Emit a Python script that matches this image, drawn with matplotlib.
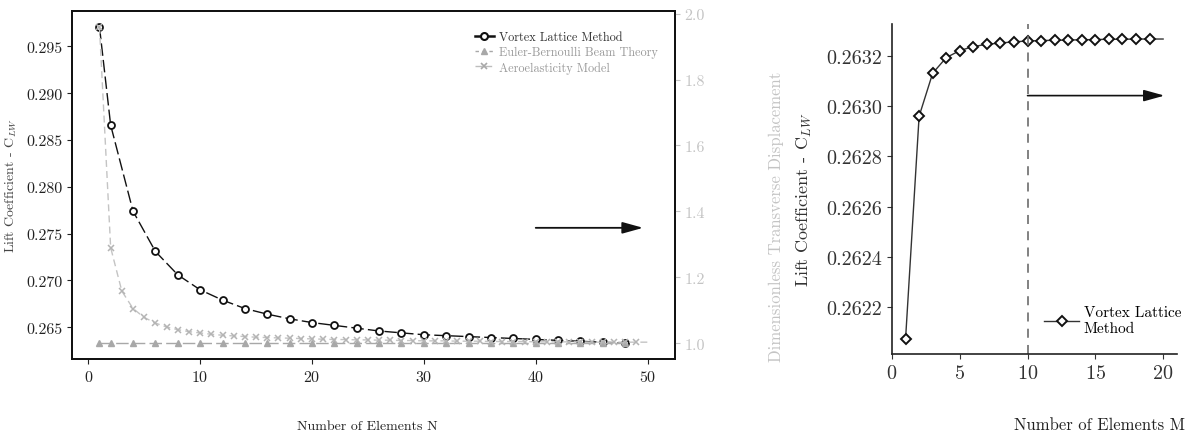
import matplotlib
matplotlib.use("Agg")
import matplotlib.pyplot as plt
from matplotlib.lines import Line2D

plt.rcParams['font.family'] = ['cmr10', 'DejaVu Serif']
plt.rcParams['mathtext.fontset'] = 'cm'
plt.rcParams['axes.formatter.use_mathtext'] = True
plt.rcParams['axes.unicode_minus'] = False

# --- convergence in spanwise elements N ---
n_vlm = [1, 2, 4, 6, 8, 10, 12, 14, 16, 18, 20, 22, 24, 26, 28, 30, 32, 34,
         36, 38, 40, 42, 44, 46, 48]
cl_vlm = [0.2971, 0.2866, 0.2774, 0.2731, 0.2706, 0.2690, 0.2679, 0.2670,
          0.2664, 0.2659, 0.2655, 0.2652, 0.2649, 0.2646, 0.2644, 0.2642,
          0.2641, 0.2640, 0.2639, 0.2638, 0.2637, 0.2636, 0.2635, 0.2634,
          0.2633]

n_eb = [1, 2, 4, 6, 8, 10, 12, 14, 16, 18, 20, 22, 24, 26, 28, 30, 32, 34,
        36, 38, 40, 42, 44, 46, 48]
disp_eb = [1.0] * len(n_eb)

n_aero = list(range(1, 51))
disp_aero = [1.960, 1.290, 1.158, 1.105, 1.078, 1.061, 1.049, 1.041, 1.035,
             1.031, 1.027, 1.024, 1.022, 1.020, 1.018, 1.017, 1.016, 1.015,
             1.014, 1.013, 1.012, 1.011, 1.011, 1.010, 1.010, 1.009, 1.009,
             1.008, 1.008, 1.007, 1.007, 1.007, 1.006, 1.006, 1.006, 1.005,
             1.005, 1.005, 1.005, 1.004, 1.004, 1.004, 1.004, 1.004, 1.003,
             1.003, 1.003, 1.003, 1.003, 1.003]

# --- convergence in chordwise elements M ---
m_vlm = list(range(1, 21))
cl_m = [0.262074, 0.262960, 0.263131, 0.263193, 0.263221, 0.263237,
        0.263246, 0.263251, 0.263256, 0.263259, 0.263261, 0.263262,
        0.263263, 0.263264, 0.263265, 0.263266, 0.263266, 0.263267,
        0.263267, 0.263267]

fig = plt.figure(figsize=(11.93, 4.39), dpi=100)

# ---------------- left panel ----------------
ax1 = fig.add_axes([0.0604, 0.18, 0.5054, 0.7927])
ax2 = ax1.twinx()

ax1.plot(n_vlm, cl_vlm, color='#111111', lw=1.0, dashes=(9, 3),
         marker='o', ms=5, mfc='white', mec='#111111', mew=1.3, zorder=3)
ax2.plot(n_eb, disp_eb, color='#a8a8a8', lw=1.0, dashes=(9, 3),
         marker='^', ms=5, mfc='#a8a8a8', mec='#a8a8a8')
ax2.plot(n_aero, disp_aero, color='#c4c4c4', lw=1.0, dashes=(5, 3),
         marker='x', ms=4, mew=1.1, markevery=slice(0, 49),
         mec='#b4b4b4')

ax1.set_xticks([0, 10, 20, 30, 40, 50])
ax1.set_yticks([0.265, 0.270, 0.275, 0.280, 0.285, 0.290, 0.295])
ax1.yaxis.set_major_formatter(matplotlib.ticker.FormatStrFormatter('%.3f'))
ax2.set_yticks([1.0, 1.2, 1.4, 1.6, 1.8, 2.0])
ax2.yaxis.set_major_formatter(matplotlib.ticker.FormatStrFormatter('%.1f'))

ax1.tick_params(labelsize=11.5, colors='#222222')
ax2.tick_params(labelsize=11.5, colors='#c4c4c4')
for sp in ax1.spines.values():
    sp.set_linewidth(1.3)
    sp.set_color('#111111')
for sp in ax2.spines.values():
    sp.set_linewidth(1.3)
    sp.set_color('#111111')

ax1.set_xlabel('Number of Elements N', fontsize=10, color='#222222')
ax1.xaxis.set_label_coords(0.49, -0.175)
ax1.set_ylabel(r'Lift Coefficient - C$_{LW}$', fontsize=10,
               color='#444444', labelpad=5)
ax2.set_ylabel('Dimensionless Transverse Displacement', fontsize=12,
               color='#c4c4c4')
ax2.yaxis.set_label_coords(1.155, 0.41)

ax2.annotate('', xy=(49.6, 1.35), xytext=(40, 1.35),
             arrowprops=dict(arrowstyle='-|>,head_length=0.9,head_width=0.25',
                             color='#111111', lw=1.3, mutation_scale=14,
                             shrinkA=0, shrinkB=0))

handles = [
    Line2D([], [], color='#111111', lw=1.8, marker='o', ms=5,
           mfc='white', mec='#111111', mew=1.5),
    Line2D([], [], color='#a8a8a8', lw=1.0, ls=(0, (2.5, 2.5)), marker='^',
           ms=4.5, mfc='#a8a8a8', mec='#a8a8a8'),
    Line2D([], [], color='#bdbdbd', lw=1.0, ls=(0, (5, 2)), marker='x',
           ms=4, mew=1.2, mec='#a8a8a8'),
]
ax1.legend(handles, ['Vortex Lattice Method', 'Euler-Bernoulli Beam Theory',
                     'Aeroelasticity Model'],
           loc='upper right', bbox_to_anchor=(0.99, 0.975), frameon=False,
           fontsize=8.8, handlelength=1.5, handletextpad=0.45,
           labelspacing=0.25,
           labelcolor=['#333333', '#9a9a9a', '#9a9a9a'])

# ---------------- right panel ----------------
ax3 = fig.add_axes([0.7477, 0.1913, 0.2386, 0.7517])
ax3.plot(m_vlm, cl_m, color='#333333', lw=1.0, marker='D', ms=5.5,
         mfc='white', mec='#111111', mew=1.4, markevery=slice(0, 19),
         label='Vortex Lattice\nMethod')
ax3.axvline(10, color='#777777', lw=1.3, dashes=(5, 4))
ax3.annotate('', xy=(20.1, 0.263042), xytext=(10, 0.263042),
             arrowprops=dict(arrowstyle='-|>,head_length=0.9,head_width=0.25',
                             color='#111111', lw=1.2, mutation_scale=14,
                             shrinkA=0, shrinkB=0))
ax3.set_xticks([0, 5, 10, 15, 20])
ax3.set_yticks([0.2622, 0.2624, 0.2626, 0.2628, 0.2630, 0.2632])
ax3.yaxis.set_major_formatter(matplotlib.ticker.FormatStrFormatter('%.4f'))
ax3.set_xlim(0, 21)
ax3.spines['top'].set_visible(False)
ax3.spines['right'].set_visible(False)
for s in ('left', 'bottom'):
    ax3.spines[s].set_linewidth(1.2)
    ax3.spines[s].set_color('#222222')
ax3.tick_params(labelsize=14.5, colors='#333333')
ax3.set_ylabel(r'Lift Coefficient - C$_{LW}$', fontsize=13,
               color='#333333')
ax3.yaxis.set_label_coords(-0.275, 0.47)
ax3.set_xlabel('Number of Elements M', fontsize=12, color='#222222')
ax3.xaxis.set_label_coords(0.73, -0.19)
ax3.legend(loc='lower right', bbox_to_anchor=(1.065, 0.015), frameon=False,
           fontsize=11, handlelength=2.3, handletextpad=0.3,
           labelspacing=0.05)

fig.savefig('out.png', dpi=100)
